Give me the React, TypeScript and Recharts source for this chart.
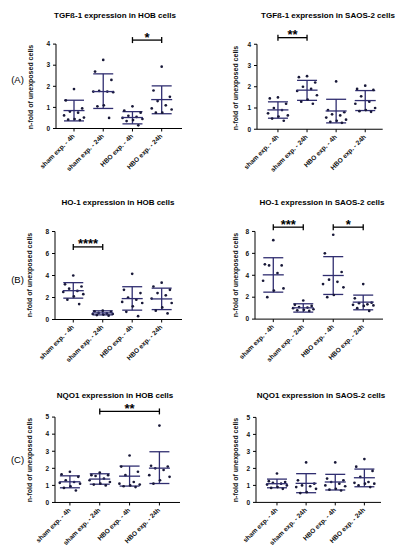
import React from 'react';
import { ComposedChart, Scatter, XAxis, YAxis, ErrorBar, ReferenceLine } from 'recharts';

// ---------- data ----------
const categories = ['sham exp. - 4h', 'sham exp. - 24h', 'HBO exp. - 4h', 'HBO exp. - 24h'];

// (A) TGFß-1 in HOB
const tgfHobPoints = [
  [1.87, 1.33, 0.95, 0.8, 0.75, 0.62, 0.52, 0.45, 0.42, 0.4],
  [3.25, 2.7, 2.3, 1.78, 1.75, 1.75, 1.72, 1.1, 1.05, 0.5],
  [1.05, 0.85, 0.75, 0.6, 0.55, 0.5, 0.45, 0.4, 0.35, 0.15],
  [2.93, 1.8, 1.5, 1.3, 1.1, 0.95, 0.9, 0.75, 0.75],
];
const tgfHobMean = [0.85, 1.75, 0.52, 1.37];
const tgfHobSdLow = [0.36, 0.95, 0.22, 0.7];
const tgfHobSdHigh = [1.34, 2.59, 0.8, 2.02];
const tgfHobSig = [{ from: 3, to: 4, y: 4.19, label: '*' }];
const tgfHobTicks = [0, 1, 2, 3, 4];

// (A) TGFß-1 in SAOS-2
const tgfSaosPoints = [
  [1.5, 1.45, 1.2, 1.0, 0.9, 0.75, 0.65, 0.6, 0.5, 0.4],
  [2.5, 2.45, 2.2, 2.0, 1.9, 1.8, 1.6, 1.4, 1.3, 1.2],
  [2.25, 0.9, 0.8, 0.7, 0.65, 0.55, 0.45, 0.4, 0.35, 0.3],
  [2.05, 1.9, 1.85, 1.55, 1.3, 1.2, 1.0, 0.9, 0.85, 0.82],
];
const tgfSaosMean = [0.91, 1.84, 0.86, 1.35];
const tgfSaosSdLow = [0.52, 1.36, 0.3, 0.88];
const tgfSaosSdHigh = [1.29, 2.3, 1.41, 1.82];
const tgfSaosSig = [{ from: 1, to: 2, y: 4.31, label: '**' }];
const tgfSaosTicks = [0, 1, 2, 3, 4];

// (B) HO-1 in HOB
const hoHobPoints = [
  [4.0, 3.2, 3.0, 2.8, 2.6, 2.5, 2.3, 2.1, 1.8, 1.4],
  [0.8, 0.75, 0.7, 0.6, 0.55, 0.5, 0.5, 0.45, 0.4, 0.35],
  [4.15, 2.7, 2.4, 2.0, 1.8, 1.6, 1.5, 1.2, 0.7, 0.3],
  [3.35, 3.0, 2.7, 2.4, 2.2, 1.9, 1.5, 1.1, 0.8, 0.55],
];
const hoHobMean = [2.62, 0.6, 1.9, 1.87];
const hoHobSdLow = [1.94, 0.42, 0.85, 0.9];
const hoHobSdHigh = [3.35, 0.79, 2.98, 2.85];
const hoHobSig = [{ from: 1, to: 2, y: 6.6, label: '****' }];
const hoHobTicks = [0, 2, 4, 6, 8];

// (B) HO-1 in SAOS-2
const hoSaosPoints = [
  [7.2, 5.0, 4.9, 4.9, 4.2, 3.5, 2.8, 2.6, 2.0],
  [1.7, 1.3, 1.2, 1.1, 1.05, 1.0, 0.9, 0.85, 0.8, 0.75],
  [7.7, 6.0, 4.3, 3.6, 3.4, 3.2, 2.9, 2.2, 2.0],
  [3.2, 1.9, 1.5, 1.45, 1.35, 1.3, 1.25, 1.2, 1.0, 0.75],
];
const hoSaosMean = [4.04, 1.03, 3.98, 1.55];
const hoSaosSdLow = [2.46, 0.64, 2.25, 0.85];
const hoSaosSdHigh = [5.6, 1.4, 5.7, 2.19];
const hoSaosSig = [
  { from: 1, to: 2, y: 8.39, label: '***' },
  { from: 3, to: 4, y: 8.39, label: '*' },
];
const hoSaosTicks = [0, 2, 4, 6, 8];

// (C) NQO1 in HOB
const nqoHobPoints = [
  [1.8, 1.65, 1.5, 1.3, 1.2, 1.15, 1.1, 0.95, 0.85, 0.7],
  [1.75, 1.6, 1.6, 1.55, 1.4, 1.3, 1.2, 1.1, 1.05, 1.0],
  [2.75, 2.1, 1.8, 1.6, 1.2, 1.1, 1.05, 1.0, 0.95, 0.9],
  [4.5, 2.15, 2.1, 2.0, 1.9, 1.6, 1.5, 1.3, 1.1],
];
const nqoHobMean = [1.21, 1.37, 1.54, 2.01];
const nqoHobSdLow = [0.86, 1.07, 0.96, 1.11];
const nqoHobSdHigh = [1.56, 1.68, 2.13, 2.97];
const nqoHobSig = [{ from: 2, to: 4, y: 5.33, label: '**' }];
const nqoHobTicks = [0, 1, 2, 3, 4, 5];

// (C) NQO1 in SAOS-2
const nqoSaosPoints = [
  [1.7, 1.25, 1.2, 1.15, 1.1, 1.05, 1.0, 0.9, 0.85, 0.8],
  [2.35, 1.3, 1.1, 1.0, 0.95, 0.9, 0.8, 0.6, 0.55],
  [2.35, 1.4, 1.3, 1.2, 1.1, 1.0, 0.95, 0.8, 0.75, 0.7],
  [2.55, 2.1, 1.85, 1.5, 1.2, 1.15, 1.1, 1.1, 1.0, 0.9],
];
const nqoSaosMean = [1.1, 1.12, 1.2, 1.45];
const nqoSaosSdLow = [0.86, 0.57, 0.73, 0.92];
const nqoSaosSdHigh = [1.37, 1.69, 1.65, 1.96];
const nqoSaosSig: { from: number; to: number; y: number; label: string }[] = [];
const nqoSaosTicks = [0, 1, 2, 3, 4, 5];

// ---------- styles / layout ----------
const FONT = '"Liberation Sans", Arial, Helvetica, sans-serif';
const BAR = '#302e70';
const PT = '#181838';
const JITTER = [0, -0.28, 0.28, -0.14, 0.14, -0.34, 0.34, 0.02, -0.2, 0.2];
const YW = 18;
const XH = 60;
const ML = 34;

type Sig = { from: number; to: number; y: number; label: string };
type Spec = {
  title: string;
  points: number[][];
  mean: number[];
  lo: number[];
  hi: number[];
  sig: Sig[];
  ticks: number[];
  yMax: number;
  axisX: number;
  xEnd: number;
  zeroY: number;
  ppu: number;
  xDomain: [number, number];
  titleX: number;
  titleY: number;
  labelX: number;
  labelY: number;
};

const specs: Spec[] = [
  { title: 'TGFß-1 expression in HOB cells', points: tgfHobPoints, mean: tgfHobMean, lo: tgfHobSdLow, hi: tgfHobSdHigh, sig: tgfHobSig, ticks: tgfHobTicks, yMax: 5, axisX: 56, xEnd: 182, zeroY: 128.3, ppu: 21.1, xDomain: [0.384, 4.695], titleX: 115, titleY: 15, labelX: 31, labelY: 87 },
  { title: 'TGFß-1 expression in SAOS-2 cells', points: tgfSaosPoints, mean: tgfSaosMean, lo: tgfSaosSdLow, hi: tgfSaosSdHigh, sig: tgfSaosSig, ticks: tgfSaosTicks, yMax: 5, axisX: 257.3, xEnd: 383, zeroY: 129, ppu: 21.25, xDomain: [0.28, 4.6], titleX: 328, titleY: 15, labelX: 236, labelY: 88 },
  { title: 'HO-1 expression in HOB cells', points: hoHobPoints, mean: hoHobMean, lo: hoHobSdLow, hi: hoHobSdHigh, sig: hoHobSig, ticks: hoHobTicks, yMax: 8.5, axisX: 55, xEnd: 182, zeroY: 319.3, ppu: 11, xDomain: [0.38, 4.69], titleX: 118, titleY: 202, labelX: 30, labelY: 275 },
  { title: 'HO-1 expression in SAOS-2 cells', points: hoSaosPoints, mean: hoSaosMean, lo: hoSaosSdLow, hi: hoSaosSdHigh, sig: hoSaosSig, ticks: hoSaosTicks, yMax: 9.5, axisX: 255, xEnd: 383, zeroY: 318.7, ppu: 10.96, xDomain: [0.39, 4.66], titleX: 322, titleY: 202, labelX: 236, labelY: 275 },
  { title: 'NQO1 expression in HOB cells', points: nqoHobPoints, mean: nqoHobMean, lo: nqoHobSdLow, hi: nqoHobSdHigh, sig: nqoHobSig, ticks: nqoHobTicks, yMax: 6, axisX: 55, xEnd: 180, zeroY: 502.7, ppu: 17.08, xDomain: [0.5, 4.69], titleX: 115, titleY: 395, labelX: 30, labelY: 460 },
  { title: 'NQO1 expression in SAOS-2 cells', points: nqoSaosPoints, mean: nqoSaosMean, lo: nqoSaosSdLow, hi: nqoSaosSdHigh, sig: nqoSaosSig, ticks: nqoSaosTicks, yMax: 5.2, axisX: 256, xEnd: 381, zeroY: 502.3, ppu: 17, xDomain: [0.28, 4.57], titleX: 321, titleY: 395, labelX: 236, labelY: 460 },
];

const panelLetters = [
  { text: '(A)', x: 17.5, y: 80 },
  { text: '(B)', x: 17.5, y: 280 },
  { text: '(C)', x: 17.5, y: 460 },
];

// ---------- shapes ----------
const PointShape = (p: any) => <circle cx={p.cx} cy={p.cy} r={1.35} fill={PT} />;
const MeanShape = (p: any) => (
  <line x1={p.cx - 10.5} x2={p.cx + 10.5} y1={p.cy} y2={p.cy} stroke={BAR} strokeWidth={1.3} />
);
const CapShape = (p: any) => (
  <line x1={p.cx} x2={p.cx} y1={p.cy - 3} y2={p.cy + 3} stroke="#000" strokeWidth={1.3} />
);
const StarShape = (p: any) => (
  <text x={p.cx} y={p.cy + 1.5} textAnchor="middle" fontFamily={FONT} fontWeight="bold" fontSize={13} fill="#000">
    {p.payload.label}
  </text>
);

const XTick = (p: any) => (
  <g transform={`translate(${p.x - 1},${p.y + 1})`}>
    <text
      x={0}
      y={0}
      dy={3}
      textAnchor="end"
      transform="rotate(-45)"
      fontFamily={FONT}
      fontWeight="bold"
      fontSize={6.6}
      fill="#111"
    >
      {categories[p.payload.value - 1]}
    </text>
  </g>
);

const YTick = (p: any) => (
  <text x={p.x - 1} y={p.y} dy="0.35em" textAnchor="end" fontFamily={FONT} fontWeight="bold" fontSize={6.5} fill="#111">
    {p.payload.value}
  </text>
);

function Panel({ s }: { s: Spec }) {
  const plotW = s.xEnd - s.axisX;
  const plotH = s.yMax * s.ppu;
  const left = s.axisX - YW - ML;
  const top = s.zeroY - plotH;
  const width = ML + YW + plotW + 4;
  const height = plotH + XH;

  const pointData = s.points.flatMap((vals, i) =>
    vals.map((v, j) => ({ x: i + 1 + JITTER[j % JITTER.length], y: v }))
  );
  const meanData = s.mean.map((m, i) => ({ x: i + 1, y: m, err: [m - s.lo[i], s.hi[i] - m] }));
  const topTick = s.ticks[s.ticks.length - 1];

  return (
    <div style={{ position: 'absolute', left, top }}>
      <ComposedChart width={width} height={height} margin={{ top: 0, right: 4, bottom: 0, left: ML }}>
        <XAxis
          type="number"
          dataKey="x"
          domain={s.xDomain}
          ticks={[1, 2, 3, 4]}
          interval={0}
          height={XH}
          axisLine={{ stroke: '#000', strokeWidth: 1 }}
          tickLine={{ stroke: '#000' }}
          tickSize={3}
          tick={<XTick />}
        />
        <YAxis
          type="number"
          dataKey="y"
          domain={[0, s.yMax]}
          ticks={s.ticks}
          interval={0}
          width={YW}
          axisLine={false}
          tickLine={{ stroke: '#000' }}
          tickSize={3}
          tick={<YTick />}
        />
        <ReferenceLine
          segment={[
            { x: s.xDomain[0], y: 0 },
            { x: s.xDomain[0], y: topTick },
          ]}
          stroke="#000"
          strokeWidth={1}
          ifOverflow="visible"
        />
        <Scatter data={pointData} shape={PointShape} isAnimationActive={false} />
        <Scatter data={meanData} shape={MeanShape} isAnimationActive={false}>
          <ErrorBar dataKey="err" direction="y" width={10} stroke={BAR} strokeWidth={1.3} />
        </Scatter>
        {s.sig.map((g, k) => (
          <Scatter
            key={'b' + k}
            data={[
              { x: g.from, y: g.y },
              { x: g.to, y: g.y },
            ]}
            line={{ stroke: '#000', strokeWidth: 1.3 }}
            shape={CapShape}
            isAnimationActive={false}
          />
        ))}
        {s.sig.map((g, k) => (
          <Scatter
            key={'s' + k}
            data={[{ x: (g.from + g.to) / 2, y: g.y, label: g.label }]}
            shape={StarShape}
            isAnimationActive={false}
          />
        ))}
      </ComposedChart>
    </div>
  );
}

export default function App() {
  return (
    <div style={{ position: 'absolute', left: 0, top: 0, width: 396, height: 550, background: '#fff', overflow: 'hidden' }}>
      {specs.map((s, i) => (
        <Panel key={i} s={s} />
      ))}
      <svg width={396} height={550} style={{ position: 'absolute', left: 0, top: 0, pointerEvents: 'none' }}>
        {specs.map((s, i) => (
          <g key={i}>
            <text x={s.titleX} y={s.titleY} dy="0.35em" textAnchor="middle" fontFamily={FONT} fontWeight="bold" fontSize={8} fill="#000">
              {s.title}
            </text>
            <text
              x={s.labelX}
              y={s.labelY}
              dy="0.35em"
              textAnchor="middle"
              transform={`rotate(-90 ${s.labelX} ${s.labelY})`}
              fontFamily={FONT}
              fontWeight="bold"
              fontSize={7}
              fill="#111"
            >
              n-fold of unexposed cells
            </text>
          </g>
        ))}
        {panelLetters.map((l, i) => (
          <text key={i} x={l.x} y={l.y} dy="0.35em" textAnchor="middle" fontFamily={FONT} fontSize={9.5} fill="#000">
            {l.text}
          </text>
        ))}
      </svg>
    </div>
  );
}
